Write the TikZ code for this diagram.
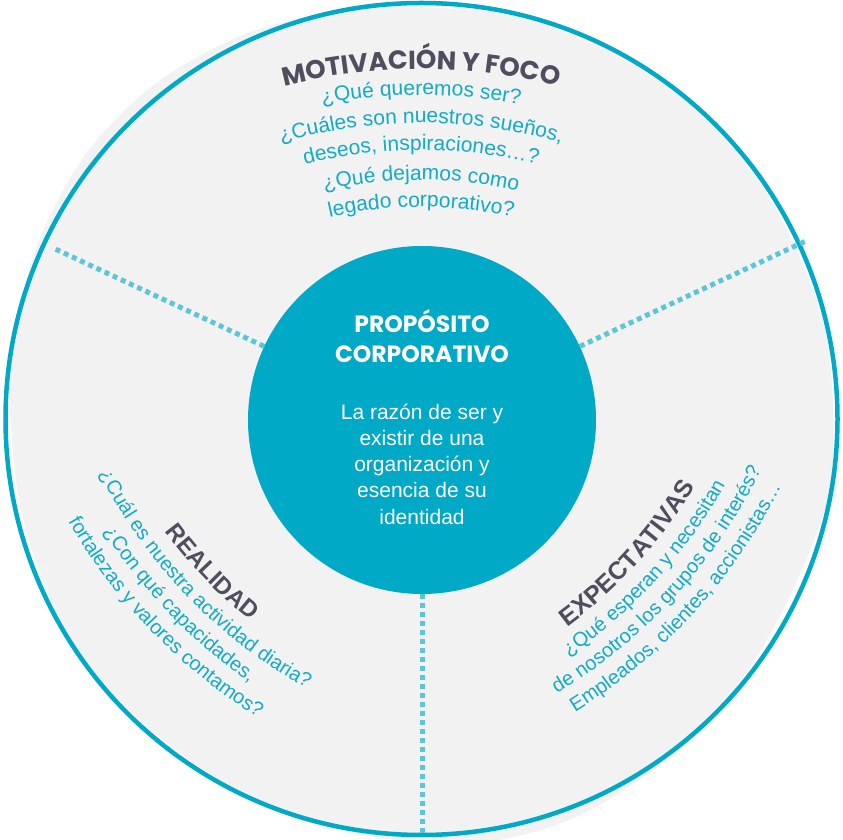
\documentclass[tikz,border=0pt]{standalone}
\usepackage{fontspec}
\setmainfont{Liberation Sans}
\newfontfamily\titlefont{Poppins}
\usetikzlibrary{decorations.text}
\definecolor{ringteal}{HTML}{00A9C6}
\definecolor{textteal}{HTML}{12ABC8}
\definecolor{dotteal}{HTML}{5CC6D8}
\definecolor{titlegrey}{HTML}{4F4E5E}
\definecolor{fillgrey}{HTML}{F2F2F2}
\begin{document}
\begin{tikzpicture}[x=1pt,y=1pt,
  curved/.style={decorate, decoration={text along path, text align=center, text color=#1}},
  divider/.style={dotteal, line width=5pt, dash pattern=on 5pt off 4pt},
  inner/.style={text=white, anchor=base, font=\fontsize{21}{21}\selectfont},
  innertitle/.style={text=white, anchor=base, font=\titlefont\bfseries\fontsize{23.5}{23.5}\selectfont}]
\useasboundingbox (0,0) rectangle (843,840);
\fill[white] (0,0) rectangle (843,840);
% grey background disc (slightly irregular)
\fill[fillgrey, shift={(421.5,421)}] plot[smooth cycle, tension=0.7] coordinates {(0:412) (20:412) (45:413) (70:412) (90:412) (105:418) (120:425) (135:428) (150:424) (165:416) (180:411) (200:411) (220:413) (245:415) (265:421) (282:428) (300:422) (320:413) (345:412)};
% outer ring
\draw[ringteal, line width=4.5pt] (421.5,421) circle[radius=416];
% central circle
\node[circle, fill=ringteal, minimum size=348pt, inner sep=0pt] (core) at (422,420) {};
% dividers
\coordinate (dL) at (53.1,592.0);
\coordinate (dR) at (806.3,599.2);
\coordinate (dB) at (422,5);
\draw[divider] (core.155) -- (dL);
\draw[divider] (core.25) -- (dR);
\draw[divider] (core.270) -- (dB);
% central texts
\node[innertitle] (pt1) at (422,507) {PROPÓSITO};
\node[innertitle] (pt2) at (422,477) {CORPORATIVO};
\node[inner] (b1) at (422,420) {La razón de ser y};
\node[inner] (b2) at (422,394) {existir de una};
\node[inner] (b3) at (422,368) {organización y};
\node[inner] (b4) at (422,342) {esencia de su};
\node[inner] (b5) at (422,315) {identidad};
% top block
\begin{scope}[shift={(421,220)}]
\path[curved=titlegrey, decoration={text={|\titlefont\bfseries\fontsize{26}{26}\selectfont|MOTIVACIÓN Y FOCO}}] (135:551) arc[start angle=135, end angle=45, radius=551];
\path[curved=textteal, decoration={text={|\fontsize{21}{21}\selectfont|¿Qué queremos ser?}}] (135:525) arc[start angle=135, end angle=45, radius=525];
\path[curved=textteal, decoration={text={|\fontsize{21}{21}\selectfont|¿Cuáles son nuestros sueños,}}] (135:497) arc[start angle=135, end angle=45, radius=497];
\path[curved=textteal, decoration={text={|\fontsize{21}{21}\selectfont|deseos, inspiraciones…?}}] (135:470) arc[start angle=135, end angle=45, radius=470];
\path[curved=textteal, decoration={text={|\fontsize{21}{21}\selectfont|¿Qué dejamos como}}] (135:440) arc[start angle=135, end angle=45, radius=440];
\path[curved=textteal, decoration={text={|\fontsize{21}{21}\selectfont|legado corporativo?}}] (135:413) arc[start angle=135, end angle=45, radius=413];
\end{scope}
% REALIDAD block
\begin{scope}[shift={(556,600)}]
\path[curved=titlegrey, decoration={text={|\bfseries\fontsize{24}{24}\selectfont|REALIDAD}}] (179:488) arc[start angle=179, end angle=269, radius=488];
\path[curved=textteal, decoration={text={|\fontsize{20}{20}\selectfont|¿Cuál es nuestra actividad diaria?}}] (179:513) arc[start angle=179, end angle=269, radius=513];
\path[curved=textteal, decoration={text={|\fontsize{20}{20}\selectfont|¿Con qué capacidades,}}] (179:538) arc[start angle=179, end angle=269, radius=538];
\path[curved=textteal, decoration={text={|\fontsize{20}{20}\selectfont|fortalezas y valores contamos?}}] (179:563) arc[start angle=179, end angle=269, radius=563];
\end{scope}
% EXPECTATIVAS block
\begin{scope}[shift={(280,604)}]
\path[curved=titlegrey, decoration={text={|\bfseries\fontsize{25}{25}\selectfont|EXPECTATIVAS}}] (272.6:485) arc[start angle=272.6, end angle=362.6, radius=485];
\path[curved=textteal, decoration={text={|\fontsize{20}{20}\selectfont|¿Qué esperan y necesitan}}] (272.6:510) arc[start angle=272.6, end angle=362.6, radius=510];
\path[curved=textteal, decoration={text={|\fontsize{20}{20}\selectfont|de nosotros los grupos de interés?}}] (272.6:535) arc[start angle=272.6, end angle=362.6, radius=535];
\path[curved=textteal, decoration={text={|\fontsize{20}{20}\selectfont|Empleados, clientes, accionistas…}}] (272.6:560) arc[start angle=272.6, end angle=362.6, radius=560];
\end{scope}
\end{tikzpicture}
\end{document}
